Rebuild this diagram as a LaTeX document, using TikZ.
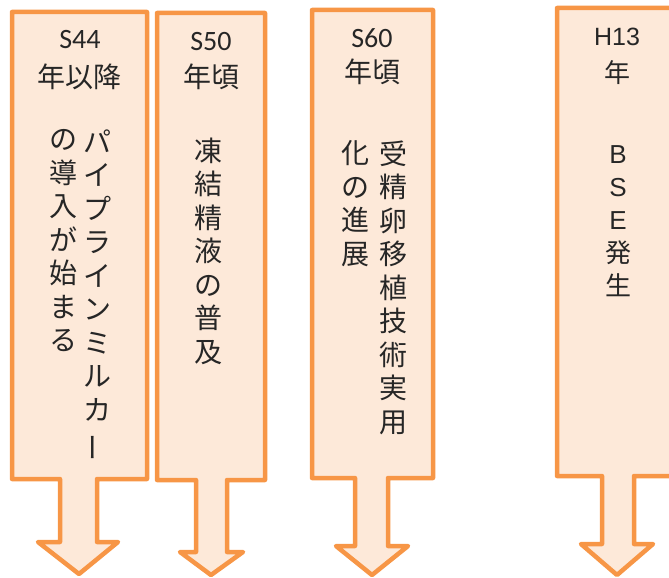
\documentclass[tikz,border=0pt]{standalone}
\usepackage{fontspec}
\setmainfont{Noto Sans CJK JP}
\newfontfamily\calibrifont{Carlito}
\newfontfamily\arialfont{Liberation Sans}

\definecolor{calloutline}{HTML}{F79646}
\definecolor{calloutfill}{HTML}{FDE9D9}
\definecolor{ink}{HTML}{262626}

\tikzset{
	callout/.style={draw=calloutline,fill=calloutfill,line width=4.5pt,line join=round},
	yeartext/.style={text=ink,inner sep=0,font=\fontsize{28}{30}\selectfont},
	column/.style={text=ink,inner sep=0,anchor=north,align=center,font=\fontsize{28}{33.5}\selectfont},
}

\begin{document}
\begin{tikzpicture}[x=1pt,y=-1pt]
	\useasboundingbox (0,0) rectangle (669,578);
	\clip (0,0) rectangle (669,578);
	% arrows
	\draw[callout] (12,12) -- (147,12) -- (147,479) -- (97,479) -- (97,542) -- (118,542) -- (79,574) -- (38,542) -- (60,542) -- (60,479) -- (12,479) -- cycle;
	\draw[callout] (157,13) -- (265,13) -- (265,480) -- (227,480) -- (227,552) -- (243,552) -- (211,575) -- (180,552) -- (196,552) -- (196,480) -- (157,480) -- cycle;
	\draw[callout] (312,10) -- (433,10) -- (433,478) -- (388,478) -- (388,546) -- (408,546) -- (372,575) -- (336,546) -- (355,546) -- (355,478) -- (312,478) -- cycle;
	\draw[callout] (557,8) -- (677,8) -- (677,476) -- (634,476) -- (634,544) -- (653,544) -- (617,575) -- (581,544) -- (602,544) -- (602,476) -- (557,476) -- cycle;
	% S44
	\node[yeartext,font=\calibrifont\fontsize{28}{30}\selectfont] (s44) at (80,40) {S44};
	\node[yeartext] (s44y) at (79,77) {年以降};
	\node[column] (s44r) at (97,129.5) {パ\\イ\\プ\\ラ\\イ\\ン\\ミ\\ル\\カ\\\rotatebox[origin=c]{90}{ー}};
	\node[column] (s44l) at (63,129.5) {の\\導\\入\\が\\始\\ま\\る};
	% S50
	\node[yeartext,font=\calibrifont\fontsize{28}{30}\selectfont] (s50) at (211,42) {S50};
	\node[yeartext] (s50y) at (211,77) {年頃};
	\node[column] (s50c) at (208,137.5) {凍\\結\\精\\液\\の\\普\\及};
	% S60
	\node[yeartext,font=\calibrifont\fontsize{28}{30}\selectfont] (s60) at (372,38) {S60};
	\node[yeartext] (s60y) at (372,72) {年頃};
	\node[column] (s60r) at (393,140.5) {受\\精\\卵\\移\\植\\技\\術\\実\\用};
	\node[column] (s60l) at (355,140.5) {化\\の\\進\\展};
	% H13
	\node[yeartext,font=\arialfont\fontsize{25}{30}\selectfont] (h13) at (617,37) {H13};
	\node[yeartext,font=\fontsize{26}{30}\selectfont] (h13y) at (617,73) {年};
	\node[column,font=\fontsize{26}{33}\selectfont] (h13c) at (618,145) {{\arialfont B}\\{\arialfont S}\\{\arialfont E}\\発\\生};
\end{tikzpicture}
\end{document}
